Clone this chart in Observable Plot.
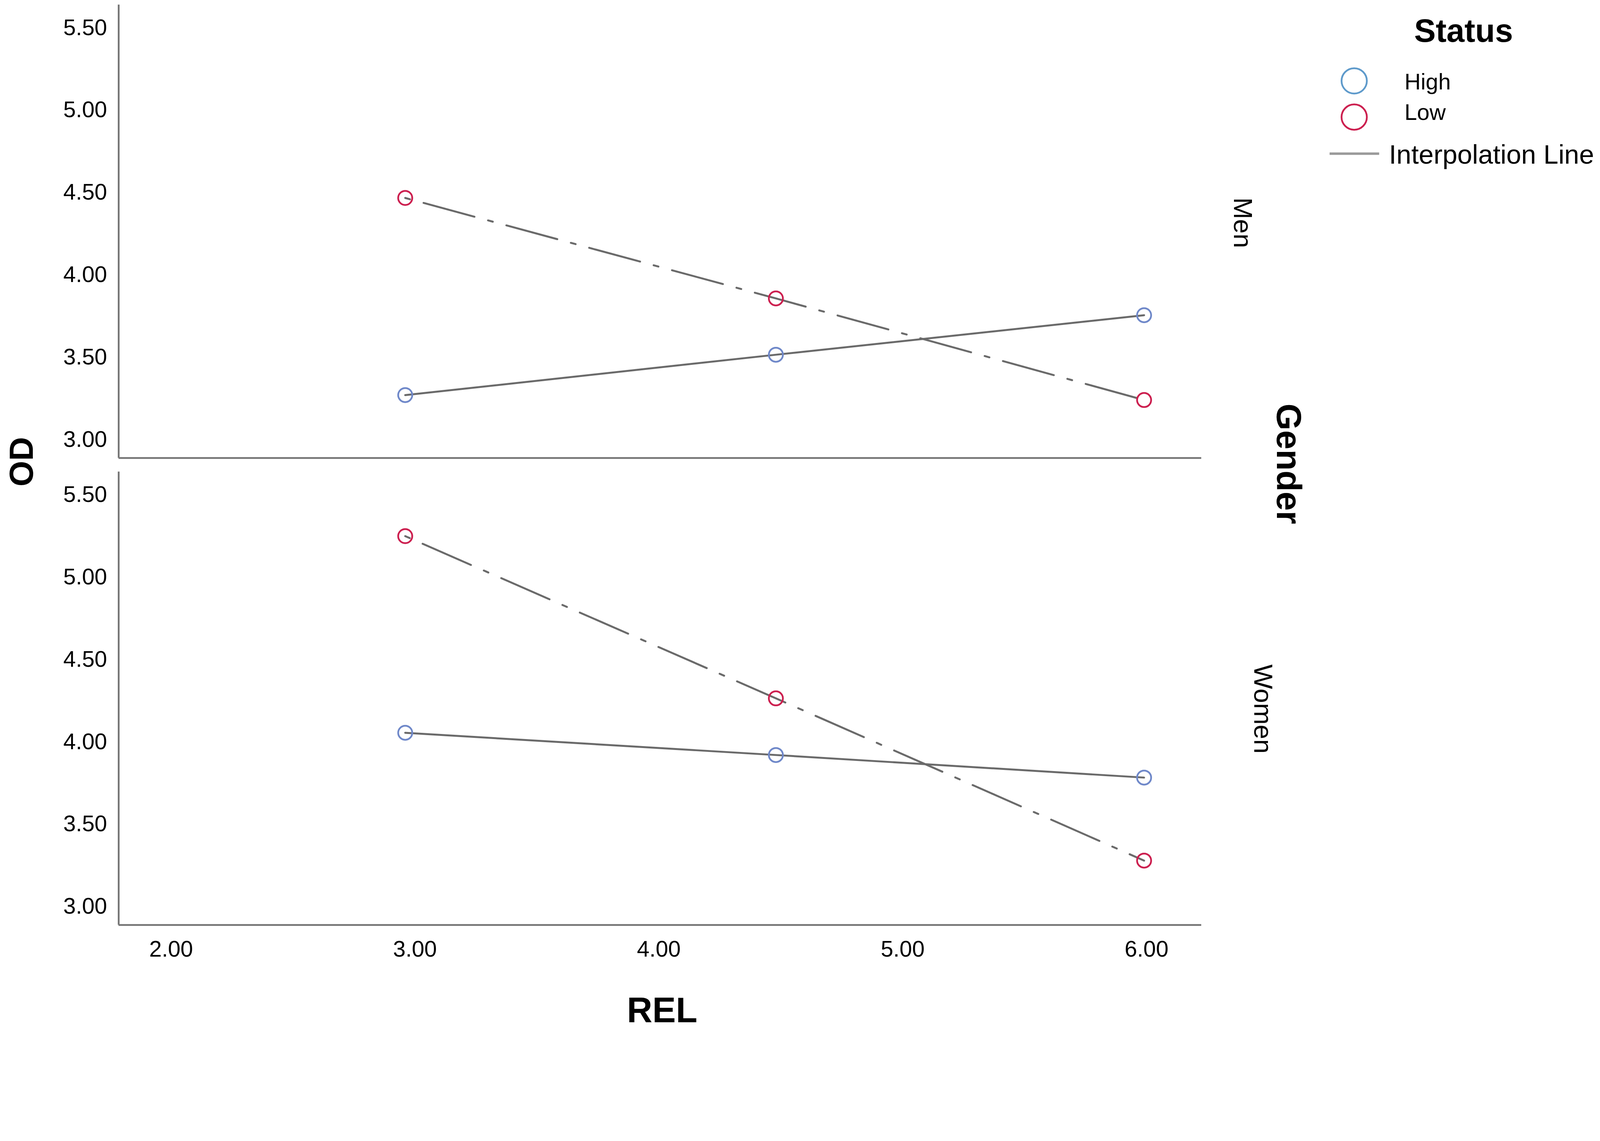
<!DOCTYPE html>
<html>
<head>
<meta charset="utf-8">
<script src="https://cdn.jsdelivr.net/npm/d3@7"></script>
<script src="https://cdn.jsdelivr.net/npm/@observablehq/plot@0.6"></script>
<style>
  html, body { margin: 0; padding: 0; background: #fff; overflow: hidden; }
  #wrap { position: relative; width: 100vw; height: 100vh; font-family: "Liberation Sans", Arial, sans-serif; }
  #wrap > svg { position: absolute; left: 0; top: 0; width: 100%; height: 100%; max-width: none; }
</style>
</head>
<body>
<div id="wrap"></div>
<script>
// ---- data ----
const genders = ["Men", "Women"];
const statuses = ["High", "Low"];
const rel = [2.96, 4.48, 5.99];
const menHigh = [3.27, 3.515, 3.755];
const menLow = [4.467, 3.857, 3.24];
const womenHigh = [4.055, 3.92, 3.783];
const womenLow = [5.249, 4.264, 3.279];
const xTicks = [2, 3, 4, 5, 6];
const yTicks = [3, 3.5, 4, 4.5, 5, 5.5];
const xDomain = [1.785, 6.225];
const yDomain = [2.888, 5.64];
const statusColors = {High: "#6f88c9", Low: "#cc1f4f"};

const series = {Men: {High: menHigh, Low: menLow}, Women: {High: womenHigh, Low: womenLow}};
const rows = [];
for (const g of genders) for (const s of statuses) rel.forEach((x, i) => rows.push({gender: g, status: s, rel: x, od: series[g][s][i]}));

const W = 4550, H = 2921;
const axisColor = "#747474";

const facetLabel = (g, dx) => Plot.text([g], {fy: d => d, text: d => d, frameAnchor: "top-right", rotate: 90, textAnchor: "start", dx, dy: 548, fontSize: 74, fill: "#000"});

const chart = Plot.plot({
  width: W, height: H,
  marginTop: 13, marginBottom: 290, marginLeft: 337, marginRight: 1134,
  style: {fontFamily: "'Liberation Sans', Arial, sans-serif", fontSize: "64px", color: "#000", background: "transparent", overflow: "visible"},
  x: {domain: xDomain},
  y: {domain: yDomain},
  fy: {domain: genders, paddingInner: 0.029, paddingOuter: 0, axis: null, label: null},
  marks: [
    Plot.ruleX([xDomain[0]], {stroke: axisColor, strokeWidth: 5}),
    Plot.ruleY([yDomain[0]], {stroke: axisColor, strokeWidth: 5}),
    Plot.axisY({ticks: yTicks, tickFormat: d3.format(".2f"), tickSize: 0, tickPadding: 33, label: null, fontSize: 64}),
    Plot.axisX({ticks: xTicks, tickFormat: d3.format(".2f"), tickSize: 0, tickPadding: 45, label: null, fontSize: 64}),
    Plot.line(rows.filter(d => d.status === "High"), {x: "rel", y: "od", fy: "gender", stroke: "#6a6a6a", strokeWidth: 5.5}),
    Plot.line(rows.filter(d => d.status === "Low"), {x: "rel", y: "od", fy: "gender", stroke: "#6a6a6a", strokeWidth: 5.5, strokeDasharray: "14,40,150,40"}),
    Plot.dot(rows, {x: "rel", y: "od", fy: "gender", r: 20, fill: "none", stroke: d => statusColors[d.status], strokeWidth: 5}),
    facetLabel(genders[0], 145),
    facetLabel(genders[1], 203)
  ]
});
chart.setAttribute("viewBox", `0 0 ${W} ${H}`);
chart.setAttribute("preserveAspectRatio", "xMinYMin meet");
document.getElementById("wrap").appendChild(chart);

// ---- overlay: axis titles, facet title, legend ----
const ov = d3.select("#wrap").append("svg")
  .attr("viewBox", `0 0 ${W} ${H}`).attr("preserveAspectRatio", "xMinYMin meet")
  .style("font-family", "'Liberation Sans', Arial, sans-serif");

ov.append("text").text("OD").attr("transform", "translate(60,1313) rotate(-90)")
  .attr("text-anchor", "middle").attr("dominant-baseline", "central")
  .attr("font-weight", "bold").attr("font-size", 94);
ov.append("text").text("REL").attr("transform", "translate(1883,2873)")
  .attr("text-anchor", "middle").attr("dominant-baseline", "central")
  .attr("font-weight", "bold").attr("font-size", 100);
ov.append("text").text("Gender").attr("transform", "translate(3665,1319) rotate(90)")
  .attr("text-anchor", "middle").attr("dominant-baseline", "central")
  .attr("font-weight", "bold").attr("font-size", 98);

ov.append("text").text("Status").attr("x", 4162).attr("y", 119)
  .attr("text-anchor", "middle").attr("font-weight", "bold").attr("font-size", 92);

const legendRows = [{s: "High", cy: 230, ty: 254}, {s: "Low", cy: 333, ty: 341}];
const lg = ov.append("g");
lg.selectAll("circle").data(legendRows).join("circle")
  .attr("cx", 3851).attr("cy", d => d.cy).attr("r", 36)
  .attr("fill", "none").attr("stroke", d => d.s === "High" ? "#5e9acb" : statusColors.Low).attr("stroke-width", 5);
lg.selectAll("text").data(legendRows).join("text")
  .attr("x", 3994).attr("y", d => d.ty).attr("font-size", 64).text(d => d.s);
ov.append("line").attr("x1", 3781).attr("x2", 3922).attr("y1", 437).attr("y2", 437)
  .attr("stroke", "#9a9a9a").attr("stroke-width", 7);
ov.append("text").text("Interpolation Line").attr("x", 3950).attr("y", 465).attr("font-size", 76);
</script>
</body>
</html>
